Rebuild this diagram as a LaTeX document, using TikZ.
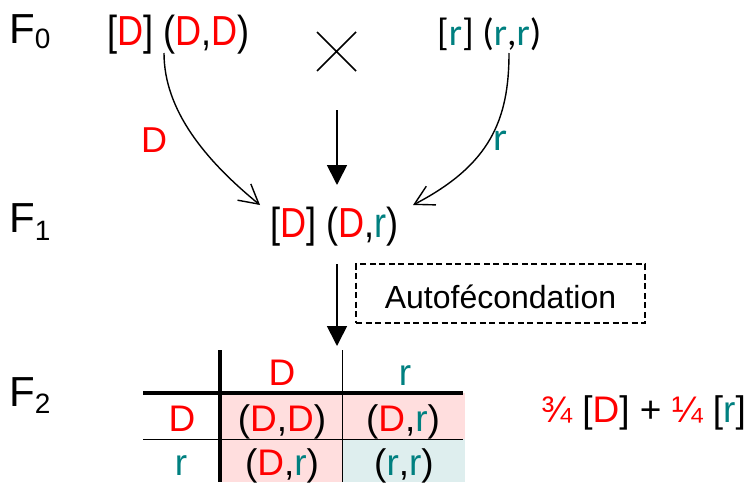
\documentclass[tikz,border=0pt]{standalone}
\usepackage{fontspec}
\setmainfont{Liberation Sans}
\newfontfamily\condf[FakeStretch=0.86]{Liberation Sans}
\newfontfamily\carl{Carlito}
\usetikzlibrary{arrows.meta}
\definecolor{rd}{RGB}{255,0,0}
\definecolor{tl}{RGB}{0,128,128}
\definecolor{pk}{RGB}{255,222,222}
\definecolor{bl}{RGB}{222,238,238}
\newcommand{\gD}{\textcolor{rd}{D}}
\newcommand{\gR}{\textcolor{tl}{r}}
\newcommand{\fsz}[1]{\fontsize{#1}{#1}\selectfont}
\newcommand{\gen}[2]{\fsz{42}F\raisebox{-#2pt}{\fsz{28}#1}}
\begin{document}
\begin{tikzpicture}[x=1pt,y=-1pt,
  txt/.style={inner sep=0pt,anchor=base west},
  ctxt/.style={inner sep=0pt,anchor=base,font=\fsz{37}},
  curvearrow/.style={line width=1.4pt,-{Straight Barb[length=19pt,width=21pt,line width=1.4pt]}},
  bigarrow/.style={line width=1.7pt,-{Triangle[length=20pt,width=20pt]}},
  thick line/.style={line width=3.5pt},
  thin line/.style={line width=1pt}]
\useasboundingbox (0,0) rectangle (747,482);

% generation labels
\node[txt] (f0) at (9,43) {\gen{0}{5}};
\node[txt] (f1) at (9,232) {\gen{1}{8}};
\node[txt] (f2) at (9,406) {\gen{2}{7}};

% parents
\node[txt] (p0l) at (107,45) {\condf\fsz{42}[\gD] (\gD,\gD)};
\node[txt] (p0r) at (437,45) {\carl\fsz{38}[\gR] (\gR,\gR)};
\draw[line width=1.5pt] (317,32) -- (356,71) (317,71) -- (356,32);

% F1
\node[txt] (p1) at (270,237) {\condf\fsz{42}[\gD] (\gD,\gR)};

% gamete labels
\node[inner sep=0pt,font=\fsz{36},text=rd] (gD) at (154,140) {D};
\node[inner sep=0pt,font=\carl\fsz{40},text=tl] (gR) at (500,141) {r};

% curved arrows
\coordinate (l0) at (164,53);
\coordinate (l1) at (260,205);
\coordinate (r0) at (509,53);
\coordinate (r1) at (413,205);
\draw[curvearrow] (l0) .. controls (164,110) and (205,160) .. (l1);
\draw[curvearrow] (r0) .. controls (509,120) and (490,165) .. (r1);

% vertical arrows
\coordinate (a1s) at (337,110);
\coordinate (a1e) at (337,185);
\coordinate (a2s) at (337,264);
\coordinate (a2e) at (337,346);
\draw[bigarrow] (a1s) -- (a1e);
\draw[bigarrow] (a2s) -- (a2e);

% autofecondation box
\node[draw,dashed,line width=1.3pt,dash pattern=on 6pt off 3.5pt,minimum width=289pt,minimum height=59pt,
  inner sep=0pt,text height=29pt,text depth=0pt,font=\fsz{32}] (auto) at (500.5,293.5) {Autofécondation};

% table
\fill[pk] (220,393) rectangle (465,482);
\fill[bl] (342,439) rectangle (465,482);
\draw[thick line] (220,350) -- (220,482);
\draw[thick line] (143,393) -- (463,393);
\draw[thin line] (342,350) -- (342,482);
\draw[thin line] (143,439) -- (463,439);

\node[ctxt,text=rd] (hD) at (282,385) {D};
\node[ctxt,text=tl] (hR) at (405,385) {r};
\node[ctxt,text=rd] (vD) at (182,431) {D};
\node[ctxt,text=tl] (vR) at (181,475) {r};
\node[ctxt] (cDD) at (282,431) {(\gD,\gD)};
\node[ctxt] (cDR) at (403,431) {(\gD,\gR)};
\node[ctxt] (cRD) at (282,475) {(\gD,\gR)};
\node[ctxt] (cRR) at (404,475) {(\gR,\gR)};

% result
\node[txt] (res) at (541,422) {\fsz{37}\textcolor{rd}{¾} [\gD] + \textcolor{rd}{¼} [\gR]};
\end{tikzpicture}
\end{document}
